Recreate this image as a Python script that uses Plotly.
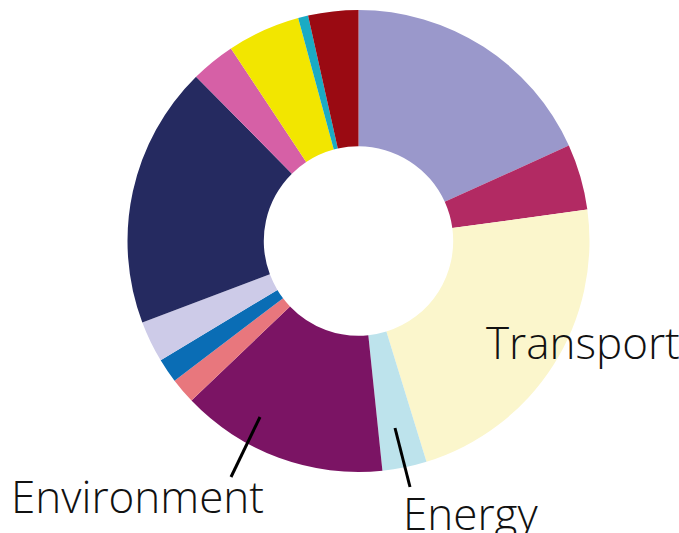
import plotly.graph_objects as go

W, H = 679, 533

labels = ["Sector A", "Sector B", "Transport", "Energy", "Environment", "Sector F",
          "Sector G", "Sector H", "Sector I", "Sector J", "Sector K", "Sector L", "Sector M"]
values = [18.2, 4.6, 22.4, 3.1, 14.5, 1.8, 1.7, 2.9, 18.3, 3.1, 5.1, 0.7, 3.5]
colors = ["#9a98cb", "#b22a63", "#fbf6cc", "#bde3ec", "#7b1464", "#e8777d",
          "#0a6db5", "#cdcbe8", "#252a60", "#d660a6", "#f2e600", "#1aabc4", "#9a0a12"]

cx, cy, r = 358.5, 241, 231

fig = go.Figure(go.Pie(
    labels=labels, values=values, sort=False, direction="clockwise", rotation=0,
    hole=0.41, marker=dict(colors=colors, line=dict(width=0)),
    textinfo="none", hoverinfo="label+percent",
    domain=dict(x=[(cx - r) / W, (cx + r) / W], y=[(H - cy - r) / H, (H - cy + r) / H]),
))

def px(x, y):
    return x / W, (H - y) / H

font = dict(family="Open Sans", size=44, color="#111111", weight=300)
anns = []
for text, x, y in [("Transport", 582.5, 342), ("Environment", 137.5, 496), ("Energy", 470, 513)]:
    ax, ay = px(x, y)
    anns.append(dict(text=text, x=ax, y=ay, xref="paper", yref="paper", showarrow=False,
                     xanchor="center", yanchor="middle", font=font))

shapes = []
for (x0, y0, x1, y1) in [(260, 417, 231, 477), (395, 428, 410, 487)]:
    a0, b0 = px(x0, y0)
    a1, b1 = px(x1, y1)
    shapes.append(dict(type="line", xref="paper", yref="paper", x0=a0, y0=b0, x1=a1, y1=b1,
                       line=dict(color="black", width=3)))

fig.update_layout(width=W, height=H, margin=dict(l=0, r=0, t=0, b=0), showlegend=False,
                  paper_bgcolor="white", plot_bgcolor="white", annotations=anns, shapes=shapes)
fig.write_html("out.html")
